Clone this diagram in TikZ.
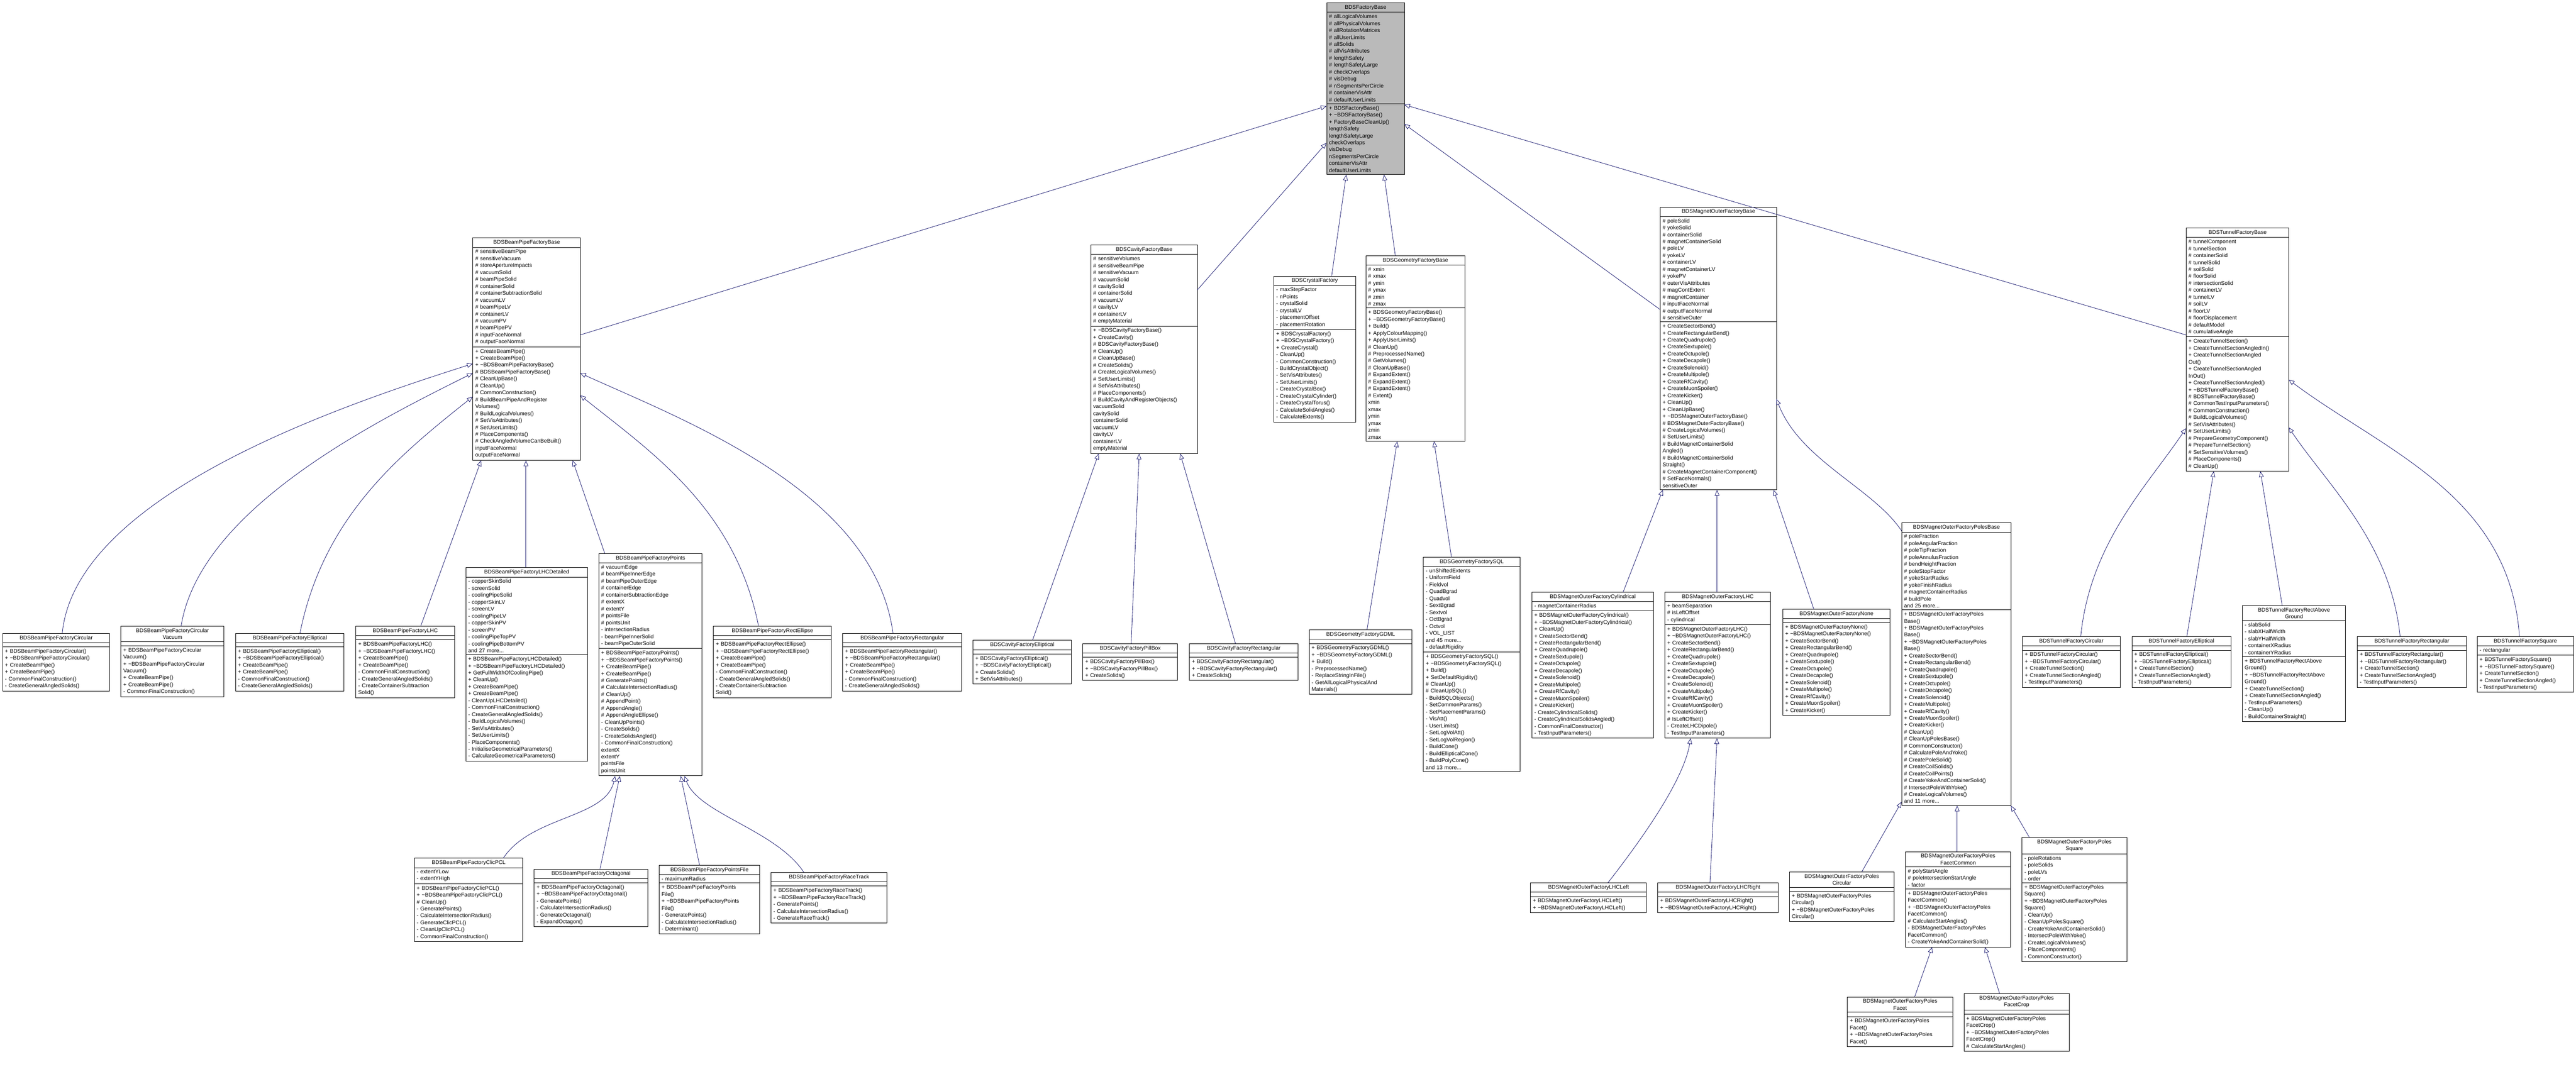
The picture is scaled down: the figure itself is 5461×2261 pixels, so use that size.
\documentclass[tikz,border=0pt]{standalone}
\usepackage{fontspec}
\setmainfont{Liberation Sans}
\usetikzlibrary{shapes.multipart,arrows.meta}

\newcommand{\td}{\textasciitilde}
% \umlclass{name}{x}{y}{width}{title}{attributes}{methods}
\newcommand{\umlclass}[8][]{%
  \pgfmathsetmacro{\boxtw}{#5-10}%
  \node[class_box, #1, text width=\boxtw pt] (#2) at (#3,#4)
    {\centering #6\par\nodepart{two}#7\nodepart{three}#8};}

\begin{document}
\begin{tikzpicture}[x=1pt, y=-1pt,
class_box/.style={rectangle split, rectangle split parts=3, draw=black, line width=1.1pt,
  anchor=north west, align=left, inner xsep=5pt, inner ysep=4pt,
  rectangle split empty part height=14pt,
  font=\fontsize{11.5}{14.7}\selectfont},
base_box/.style={fill=black!27},
inherit/.style={-{Triangle[open, length=12pt, width=10pt]}, draw={rgb,255:red,25;green,25;blue,112}, line width=0.9pt}
]
\useasboundingbox (0,0) rectangle (5461,2261);

% bases
\umlclass[base_box]{fbase}{2812}{6}{165}{BDSFactoryBase}
{\# allLogicalVolumes\\\# allPhysicalVolumes\\\# allRotationMatrices\\\# allUserLimits\\\# allSolids\\\# allVisAttributes\\\# lengthSafety\\\# lengthSafetyLarge\\\# checkOverlaps\\\# visDebug\\\# nSegmentsPerCircle\\\# containerVisAttr\\\# defaultUserLimits}
{+ BDSFactoryBase()\\+ \td BDSFactoryBase()\\+ FactoryBaseCleanUp()\\* lengthSafety\\* lengthSafetyLarge\\* checkOverlaps\\* visDebug\\* nSegmentsPerCircle\\* containerVisAttr\\* defaultUserLimits}

\umlclass{bpbase}{1002}{504}{228}{BDSBeamPipeFactoryBase}
{\# sensitiveBeamPipe\\\# sensitiveVacuum\\\# storeApertureImpacts\\\# vacuumSolid\\\# beamPipeSolid\\\# containerSolid\\\# containerSubtractionSolid\\\# vacuumLV\\\# beamPipeLV\\\# containerLV\\\# vacuumPV\\\# beamPipePV\\\# inputFaceNormal\\\# outputFaceNormal}
{+ CreateBeamPipe()\\+ CreateBeamPipe()\\+ \td BDSBeamPipeFactoryBase()\\\# BDSBeamPipeFactoryBase()\\\# CleanUpBase()\\\# CleanUp()\\\# CommonConstruction()\\\# BuildBeamPipeAndRegister\\Volumes()\\\# BuildLogicalVolumes()\\\# SetVisAttributes()\\\# SetUserLimits()\\\# PlaceComponents()\\\# CheckAngledVolumeCanBeBuilt()\\* inputFaceNormal\\* outputFaceNormal}

\umlclass{cavbase}{2312}{519}{226}{BDSCavityFactoryBase}
{\# sensitiveVolumes\\\# sensitiveBeamPipe\\\# sensitiveVacuum\\\# vacuumSolid\\\# cavitySolid\\\# containerSolid\\\# vacuumLV\\\# cavityLV\\\# containerLV\\\# emptyMaterial}
{+ \td BDSCavityFactoryBase()\\+ CreateCavity()\\\# BDSCavityFactoryBase()\\\# CleanUp()\\\# CleanUpBase()\\\# CreateSolids()\\\# CreateLogicalVolumes()\\\# SetUserLimits()\\\# SetVisAttributes()\\\# PlaceComponents()\\\# BuildCavityAndRegisterObjects()\\* vacuumSolid\\* cavitySolid\\* containerSolid\\* vacuumLV\\* cavityLV\\* containerLV\\* emptyMaterial}

\umlclass{crystal}{2700}{585}{173}{BDSCrystalFactory}
{- maxStepFactor\\- nPoints\\- crystalSolid\\- crystalLV\\- placementOffset\\- placementRotation}
{+ BDSCrystalFactory()\\+ \td BDSCrystalFactory()\\+ CreateCrystal()\\- CleanUp()\\- CommonConstruction()\\- BuildCrystalObject()\\- SetVisAttributes()\\- SetUserLimits()\\- CreateCrystalBox()\\- CreateCrystalCylinder()\\- CreateCrystalTorus()\\- CalculateSolidAngles()\\- CalculateExtents()}

\umlclass{geobase}{2895}{542}{210}{BDSGeometryFactoryBase}
{\# xmin\\\# xmax\\\# ymin\\\# ymax\\\# zmin\\\# zmax}
{+ BDSGeometryFactoryBase()\\+ \td BDSGeometryFactoryBase()\\+ Build()\\+ ApplyColourMapping()\\+ ApplyUserLimits()\\\# CleanUp()\\\# PreprocessedName()\\\# GetVolumes()\\\# CleanUpBase()\\\# ExpandExtent()\\\# ExpandExtent()\\\# ExpandExtent()\\\# Extent()\\* xmin\\* xmax\\* ymin\\* ymax\\* zmin\\* zmax}

\umlclass{mobase}{3519}{439}{247}{BDSMagnetOuterFactoryBase}
{\# poleSolid\\\# yokeSolid\\\# containerSolid\\\# magnetContainerSolid\\\# poleLV\\\# yokeLV\\\# containerLV\\\# magnetContainerLV\\\# yokePV\\\# outerVisAttributes\\\# magContExtent\\\# magnetContainer\\\# inputFaceNormal\\\# outputFaceNormal\\\# sensitiveOuter}
{+ CreateSectorBend()\\+ CreateRectangularBend()\\+ CreateQuadrupole()\\+ CreateSextupole()\\+ CreateOctupole()\\+ CreateDecapole()\\+ CreateSolenoid()\\+ CreateMultipole()\\+ CreateRfCavity()\\+ CreateMuonSpoiler()\\+ CreateKicker()\\+ CleanUp()\\+ CleanUpBase()\\+ \td BDSMagnetOuterFactoryBase()\\\# BDSMagnetOuterFactoryBase()\\\# CreateLogicalVolumes()\\\# SetUserLimits()\\\# BuildMagnetContainerSolid\\Angled()\\\# BuildMagnetContainerSolid\\Straight()\\\# CreateMagnetContainerComponent()\\\# SetFaceNormals()\\* sensitiveOuter}

\umlclass{tunbase}{4634}{483}{218}{BDSTunnelFactoryBase}
{\# tunnelComponent\\\# tunnelSection\\\# containerSolid\\\# tunnelSolid\\\# soilSolid\\\# floorSolid\\\# intersectionSolid\\\# containerLV\\\# tunnelLV\\\# soilLV\\\# floorLV\\\# floorDisplacement\\\# defaultModel\\\# cumulativeAngle}
{+ CreateTunnelSection()\\+ CreateTunnelSectionAngledIn()\\+ CreateTunnelSectionAngled\\Out()\\+ CreateTunnelSectionAngled\\InOut()\\+ CreateTunnelSectionAngled()\\+ \td BDSTunnelFactoryBase()\\\# BDSTunnelFactoryBase()\\\# CommonTestInputParameters()\\\# CommonConstruction()\\\# BuildLogicalVolumes()\\\# SetVisAttributes()\\\# SetUserLimits()\\\# PrepareGeometryComponent()\\\# PrepareTunnelSection()\\\# SetSensitiveVolumes()\\\# PlaceComponents()\\\# CleanUp()}

% beam pipes
\umlclass{bpcirc}{5}{1342}{227}{BDSBeamPipeFactoryCircular}{}
{+ BDSBeamPipeFactoryCircular()\\+ \td BDSBeamPipeFactoryCircular()\\+ CreateBeamPipe()\\+ CreateBeamPipe()\\- CommonFinalConstruction()\\- CreateGeneralAngledSolids()}
\umlclass{bpvac}{256}{1327}{218}{BDSBeamPipeFactoryCircular\\Vacuum}{}
{+ BDSBeamPipeFactoryCircular\\Vacuum()\\+ \td BDSBeamPipeFactoryCircular\\Vacuum()\\+ CreateBeamPipe()\\+ CreateBeamPipe()\\- CommonFinalConstruction()}
\umlclass{bpell}{499}{1342}{230}{BDSBeamPipeFactoryElliptical}{}
{+ BDSBeamPipeFactoryElliptical()\\+ \td BDSBeamPipeFactoryElliptical()\\+ CreateBeamPipe()\\+ CreateBeamPipe()\\- CommonFinalConstruction()\\- CreateGeneralAngledSolids()}
\umlclass{bplhc}{754}{1327}{209}{BDSBeamPipeFactoryLHC}{}
{+ BDSBeamPipeFactoryLHC()\\+ \td BDSBeamPipeFactoryLHC()\\+ CreateBeamPipe()\\+ CreateBeamPipe()\\- CommonFinalConstruction()\\- CreateGeneralAngledSolids()\\- CreateContainerSubtraction\\Solid()}
\umlclass{bplhcd}{987}{1203}{258}{BDSBeamPipeFactoryLHCDetailed}
{- copperSkinSolid\\- screenSolid\\- coolingPipeSolid\\- copperSkinLV\\- screenLV\\- coolingPipeLV\\- copperSkinPV\\- screenPV\\- coolingPipeTopPV\\- coolingPipeBottomPV\\and 27 more...}
{+ BDSBeamPipeFactoryLHCDetailed()\\+ \td BDSBeamPipeFactoryLHCDetailed()\\+ GetFullWidthOfCoolingPipe()\\+ CleanUp()\\+ CreateBeamPipe()\\+ CreateBeamPipe()\\- CleanUpLHCDetailed()\\- CommonFinalConstruction()\\- CreateGeneralAngledSolids()\\- BuildLogicalVolumes()\\- SetVisAttributes()\\- SetUserLimits()\\- PlaceComponents()\\- InitialiseGeometricalParameters()\\- CalculateGeometricalParameters()}
\umlclass{bppts}{1269}{1173}{219}{BDSBeamPipeFactoryPoints}
{\# vacuumEdge\\\# beamPipeInnerEdge\\\# beamPipeOuterEdge\\\# containerEdge\\\# containerSubtractionEdge\\\# extentX\\\# extentY\\\# pointsFile\\\# pointsUnit\\- intersectionRadius\\- beamPipeInnerSolid\\- beamPipeOuterSolid}
{+ BDSBeamPipeFactoryPoints()\\+ \td BDSBeamPipeFactoryPoints()\\+ CreateBeamPipe()\\+ CreateBeamPipe()\\\# GeneratePoints()\\\# CalculateIntersectionRadius()\\\# CleanUp()\\\# AppendPoint()\\\# AppendAngle()\\\# AppendAngleEllipse()\\- CleanUpPoints()\\- CreateSolids()\\- CreateSolidsAngled()\\- CommonFinalConstruction()\\* extentX\\* extentY\\* pointsFile\\* pointsUnit}
\umlclass{bpclic}{878}{1819}{230}{BDSBeamPipeFactoryClicPCL}
{- extentYLow\\- extentYHigh}
{+ BDSBeamPipeFactoryClicPCL()\\+ \td BDSBeamPipeFactoryClicPCL()\\\# CleanUp()\\- GeneratePoints()\\- CalculateIntersectionRadius()\\- GenerateClicPCL()\\- CleanUpClicPCL()\\- CommonFinalConstruction()}
\umlclass{bpoct}{1132}{1842}{241}{BDSBeamPipeFactoryOctagonal}{}
{+ BDSBeamPipeFactoryOctagonal()\\+ \td BDSBeamPipeFactoryOctagonal()\\- GeneratePoints()\\- CalculateIntersectionRadius()\\- GenerateOctagonal()\\- ExpandOctagon()}
\umlclass{bpfile}{1397}{1834}{213}{BDSBeamPipeFactoryPointsFile}
{- maximumRadius}
{+ BDSBeamPipeFactoryPoints\\File()\\+ \td BDSBeamPipeFactoryPoints\\File()\\- GeneratePoints()\\- CalculateIntersectionRadius()\\- Determinant()}
\umlclass{bprace}{1634}{1849}{246}{BDSBeamPipeFactoryRaceTrack}{}
{+ BDSBeamPipeFactoryRaceTrack()\\+ \td BDSBeamPipeFactoryRaceTrack()\\- GeneratePoints()\\- CalculateIntersectionRadius()\\- GenerateRaceTrack()}
\umlclass{bprecte}{1512}{1327}{250}{BDSBeamPipeFactoryRectEllipse}{}
{+ BDSBeamPipeFactoryRectEllipse()\\+ \td BDSBeamPipeFactoryRectEllipse()\\+ CreateBeamPipe()\\+ CreateBeamPipe()\\- CommonFinalConstruction()\\- CreateGeneralAngledSolids()\\- CreateContainerSubtraction\\Solid()}
\umlclass{bprect}{1786}{1342}{252}{BDSBeamPipeFactoryRectangular}{}
{+ BDSBeamPipeFactoryRectangular()\\+ \td BDSBeamPipeFactoryRectangular()\\+ CreateBeamPipe()\\+ CreateBeamPipe()\\- CommonFinalConstruction()\\- CreateGeneralAngledSolids()}

% cavities and geometry
\umlclass{cavell}{2062}{1357}{209}{BDSCavityFactoryElliptical}{}
{+ BDSCavityFactoryElliptical()\\+ \td BDSCavityFactoryElliptical()\\+ CreateSolids()\\+ SetVisAttributes()}
\umlclass{cavpill}{2295}{1364}{201}{BDSCavityFactoryPillBox}{}
{+ BDSCavityFactoryPillBox()\\+ \td BDSCavityFactoryPillBox()\\+ CreateSolids()}
\umlclass{cavrect}{2521}{1364}{230}{BDSCavityFactoryRectangular}{}
{+ BDSCavityFactoryRectangular()\\+ \td BDSCavityFactoryRectangular()\\+ CreateSolids()}
\umlclass{geogdml}{2775}{1335}{218}{BDSGeometryFactoryGDML}{}
{+ BDSGeometryFactoryGDML()\\+ \td BDSGeometryFactoryGDML()\\+ Build()\\- PreprocessedName()\\- ReplaceStringInFile()\\- GetAllLogicalPhysicalAnd\\Materials()}
\umlclass{geosql}{3017}{1181}{205}{BDSGeometryFactorySQL}
{- unShiftedExtents\\- UniformField\\- Fieldvol\\- QuadBgrad\\- Quadvol\\- SextBgrad\\- Sextvol\\- OctBgrad\\- Octvol\\- VOL\_LIST\\and 45 more...\\- defaultRigidity}
{+ BDSGeometryFactorySQL()\\+ \td BDSGeometryFactorySQL()\\+ Build()\\+ SetDefaultRigidity()\\\# CleanUp()\\\# CleanUpSQL()\\- BuildSQLObjects()\\- SetCommonParams()\\- SetPlacementParams()\\- VisAtt()\\- UserLimits()\\- SetLogVolAtt()\\- SetLogVolRegion()\\- BuildCone()\\- BuildEllipticalCone()\\- BuildPolyCone()\\and 13 more...}

% magnet outers
\umlclass{mocyl}{3247}{1255}{258}{BDSMagnetOuterFactoryCylindrical}
{- magnetContainerRadius}
{+ BDSMagnetOuterFactoryCylindrical()\\+ \td BDSMagnetOuterFactoryCylindrical()\\+ CleanUp()\\+ CreateSectorBend()\\+ CreateRectangularBend()\\+ CreateQuadrupole()\\+ CreateSextupole()\\+ CreateOctupole()\\+ CreateDecapole()\\+ CreateSolenoid()\\+ CreateMultipole()\\+ CreateRfCavity()\\+ CreateMuonSpoiler()\\+ CreateKicker()\\- CreateCylindricalSolids()\\- CreateCylindricalSolidsAngled()\\- CommonFinalConstructor()\\- TestInputParameters()}
\umlclass{molhc}{3529}{1255}{224}{BDSMagnetOuterFactoryLHC}
{+ beamSeparation\\\# isLeftOffset\\- cylindrical}
{+ BDSMagnetOuterFactoryLHC()\\+ \td BDSMagnetOuterFactoryLHC()\\+ CreateSectorBend()\\+ CreateRectangularBend()\\+ CreateQuadrupole()\\+ CreateSextupole()\\+ CreateOctupole()\\+ CreateDecapole()\\+ CreateSolenoid()\\+ CreateMultipole()\\+ CreateRfCavity()\\+ CreateMuonSpoiler()\\+ CreateKicker()\\\# IsLeftOffset()\\- CreateLHCDipole()\\- TestInputParameters()}
\umlclass{monone}{3779}{1291}{227}{BDSMagnetOuterFactoryNone}{}
{+ BDSMagnetOuterFactoryNone()\\+ \td BDSMagnetOuterFactoryNone()\\+ CreateSectorBend()\\+ CreateRectangularBend()\\+ CreateQuadrupole()\\+ CreateSextupole()\\+ CreateOctupole()\\+ CreateDecapole()\\+ CreateSolenoid()\\+ CreateMultipole()\\+ CreateRfCavity()\\+ CreateMuonSpoiler()\\+ CreateKicker()}
\umlclass{mopoles}{4031}{1108}{232}{BDSMagnetOuterFactoryPolesBase}
{\# poleFraction\\\# poleAngularFraction\\\# poleTipFraction\\\# poleAnnulusFraction\\\# bendHeightFraction\\\# poleStopFactor\\\# yokeStartRadius\\\# yokeFinishRadius\\\# magnetContainerRadius\\\# buildPole\\and 25 more...}
{+ BDSMagnetOuterFactoryPoles\\Base()\\+ BDSMagnetOuterFactoryPoles\\Base()\\+ \td BDSMagnetOuterFactoryPoles\\Base()\\+ CreateSectorBend()\\+ CreateRectangularBend()\\+ CreateQuadrupole()\\+ CreateSextupole()\\+ CreateOctupole()\\+ CreateDecapole()\\+ CreateSolenoid()\\+ CreateMultipole()\\+ CreateRfCavity()\\+ CreateMuonSpoiler()\\+ CreateKicker()\\\# CleanUp()\\\# CleanUpPolesBase()\\\# CommonConstructor()\\\# CalculatePoleAndYoke()\\\# CreatePoleSolid()\\\# CreateCoilSolids()\\\# CreateCoilPoints()\\\# CreateYokeAndContainerSolid()\\\# IntersectPoleWithYoke()\\\# CreateLogicalVolumes()\\and 11 more...}
\umlclass{molhcl}{3244}{1871}{246}{BDSMagnetOuterFactoryLHCLeft}{}
{+ BDSMagnetOuterFactoryLHCLeft()\\+ \td BDSMagnetOuterFactoryLHCLeft()}
\umlclass{molhcr}{3514}{1871}{255}{BDSMagnetOuterFactoryLHCRight}{}
{+ BDSMagnetOuterFactoryLHCRight()\\+ \td BDSMagnetOuterFactoryLHCRight()}
\umlclass{mopcirc}{3793}{1848}{222}{BDSMagnetOuterFactoryPoles\\Circular}{}
{+ BDSMagnetOuterFactoryPoles\\Circular()\\+ \td BDSMagnetOuterFactoryPoles\\Circular()}
\umlclass{mopfc}{4039}{1805}{223}{BDSMagnetOuterFactoryPoles\\FacetCommon}
{\# polyStartAngle\\\# poleIntersectionStartAngle\\- factor}
{+ BDSMagnetOuterFactoryPoles\\FacetCommon()\\+ \td BDSMagnetOuterFactoryPoles\\FacetCommon()\\\# CalculateStartAngles()\\- BDSMagnetOuterFactoryPoles\\FacetCommon()\\- CreateYokeAndContainerSolid()}
\umlclass{mopfacet}{3916}{2113}{223}{BDSMagnetOuterFactoryPoles\\Facet}{}
{+ BDSMagnetOuterFactoryPoles\\Facet()\\+ \td BDSMagnetOuterFactoryPoles\\Facet()}
\umlclass{mopcrop}{4163}{2106}{223}{BDSMagnetOuterFactoryPoles\\FacetCrop}{}
{+ BDSMagnetOuterFactoryPoles\\FacetCrop()\\+ \td BDSMagnetOuterFactoryPoles\\FacetCrop()\\\# CalculateStartAngles()}
\umlclass{mopsq}{4286}{1775}{222}{BDSMagnetOuterFactoryPoles\\Square}
{- poleRotations\\- poleSolids\\- poleLVs\\- order}
{+ BDSMagnetOuterFactoryPoles\\Square()\\+ \td BDSMagnetOuterFactoryPoles\\Square()\\- CleanUp()\\- CleanUpPolesSquare()\\- CreateYokeAndContainerSolid()\\- IntersectPoleWithYoke()\\- CreateLogicalVolumes()\\- PlaceComponents()\\- CommonConstructor()}

% tunnels
\umlclass{tuncirc}{4287}{1349}{207}{BDSTunnelFactoryCircular}{}
{+ BDSTunnelFactoryCircular()\\+ \td BDSTunnelFactoryCircular()\\+ CreateTunnelSection()\\+ CreateTunnelSectionAngled()\\- TestInputParameters()}
\umlclass{tunell}{4519}{1349}{210}{BDSTunnelFactoryElliptical}{}
{+ BDSTunnelFactoryElliptical()\\+ \td BDSTunnelFactoryElliptical()\\+ CreateTunnelSection()\\+ CreateTunnelSectionAngled()\\- TestInputParameters()}
\umlclass{tunrag}{4753}{1283}{219}{BDSTunnelFactoryRectAbove\\Ground}
{- slabSolid\\- slabXHalfWidth\\- slabYHalfWidth\\- containerXRadius\\- containerYRadius}
{+ BDSTunnelFactoryRectAbove\\Ground()\\+ \td BDSTunnelFactoryRectAbove\\Ground()\\+ CreateTunnelSection()\\+ CreateTunnelSectionAngled()\\- TestInputParameters()\\- CleanUp()\\- BuildContainerStraight()}
\umlclass{tunrect}{4997}{1349}{231}{BDSTunnelFactoryRectangular}{}
{+ BDSTunnelFactoryRectangular()\\+ \td BDSTunnelFactoryRectangular()\\+ CreateTunnelSection()\\+ CreateTunnelSectionAngled()\\- TestInputParameters()}
\umlclass{tunsq}{5251}{1349}{204}{BDSTunnelFactorySquare}
{- rectangular}
{+ BDSTunnelFactorySquare()\\+ \td BDSTunnelFactorySquare()\\+ CreateTunnelSection()\\+ CreateTunnelSectionAngled()\\- TestInputParameters()}

% inheritance to BDSFactoryBase
\draw[inherit] ([shift={(228,206)}]bpbase.north west) -- ([shift={(0,219)}]fbase.north west);
\draw[inherit] ([shift={(226,96)}]cavbase.north west) -- ([shift={(0,297)}]fbase.north west);
\draw[inherit] ([xshift=123pt]crystal.north west) -- ([xshift=42pt]fbase.south west);
\draw[inherit] ([xshift=63pt]geobase.north west) -- ([xshift=122pt]fbase.south west);
\draw[inherit] ([shift={(0,217)}]mobase.north west) -- ([shift={(165,257)}]fbase.north west);
\draw[inherit] ([shift={(0,227)}]tunbase.north west) -- ([shift={(165,216)}]fbase.north west);

% beam pipe family
\draw[inherit] ([xshift=127pt]bpcirc.north west) .. controls +(30,-300) and +(-250,80) .. ([shift={(0,267)}]bpbase.north west);
\draw[inherit] ([xshift=128pt]bpvac.north west) .. controls +(40,-250) and +(-200,100) .. ([shift={(0,287)}]bpbase.north west);
\draw[inherit] ([xshift=137pt]bpell.north west) .. controls +(50,-250) and +(-150,120) .. ([shift={(0,337)}]bpbase.north west);
\draw[inherit] ([xshift=138pt]bplhc.north west) -- ([xshift=18pt]bpbase.south west);
\draw[inherit] ([xshift=128pt]bplhcd.north west) -- ([xshift=113pt]bpbase.south west);
\draw[inherit] ([xshift=13pt]bppts.north west) -- ([xshift=212pt]bpbase.south west);
\draw[inherit] ([xshift=96pt]bprecte.north west) .. controls +(-50,-250) and +(150,120) .. ([shift={(228,334)}]bpbase.north west);
\draw[inherit] ([xshift=107pt]bprect.north west) .. controls +(-40,-300) and +(220,100) .. ([shift={(228,287)}]bpbase.north west);
\draw[inherit] ([xshift=189pt]bpclic.north west) .. controls +(60,-90) and +(-20,90) .. ([xshift=35pt]bppts.south west);
\draw[inherit] ([xshift=140pt]bpoct.north west) -- ([xshift=45pt]bppts.south west);
\draw[inherit] ([xshift=86pt]bpfile.north west) -- ([xshift=174pt]bppts.south west);
\draw[inherit] ([xshift=70pt]bprace.north west) .. controls +(-60,-90) and +(30,80) .. ([xshift=182pt]bppts.south west);

% cavity and geometry family
\draw[inherit] ([xshift=127pt]cavell.north west) -- ([xshift=17pt]cavbase.south west);
\draw[inherit] ([xshift=103pt]cavpill.north west) -- ([xshift=103pt]cavbase.south west);
\draw[inherit] ([xshift=98pt]cavrect.north west) -- ([xshift=190pt]cavbase.south west);
\draw[inherit] ([xshift=123pt]geogdml.north west) -- ([xshift=67pt]geobase.south west);
\draw[inherit] ([xshift=60pt]geosql.north west) -- ([xshift=145pt]geobase.south west);

% magnet outer family
\draw[inherit] ([xshift=194pt]mocyl.north west) -- ([xshift=6pt]mobase.south west);
\draw[inherit] ([xshift=111pt]molhc.north west) -- ([xshift=121pt]mobase.south west);
\draw[inherit] ([xshift=66pt]monone.north west) -- ([xshift=241pt]mobase.south west);
\draw[inherit] ([shift={(0,17)}]mopoles.north west) .. controls +(-60,-90) and +(50,130) .. ([shift={(247,407)}]mobase.north west);
\draw[inherit] ([xshift=165pt]molhcl.north west) .. controls +(70,-90) and +(-15,90) .. ([xshift=55pt]molhc.south west);
\draw[inherit] ([xshift=111pt]molhcr.north west) -- ([xshift=111pt]molhc.south west);
\draw[inherit] ([xshift=154pt]mopcirc.north west) -- ([shift={(0,592)}]mopoles.north west);
\draw[inherit] ([xshift=110pt]mopfc.north west) -- ([xshift=118pt]mopoles.south west);
\draw[inherit] ([xshift=16pt]mopsq.north west) -- ([shift={(232,600)}]mopoles.north west);
\draw[inherit] ([xshift=143pt]mopfacet.north west) -- ([xshift=57pt]mopfc.south west);
\draw[inherit] ([xshift=76pt]mopcrop.north west) -- ([xshift=169pt]mopfc.south west);

% tunnel family
\draw[inherit] ([xshift=124pt]tuncirc.north west) .. controls +(20,-200) and +(-80,120) .. ([shift={(0,425)}]tunbase.north west);
\draw[inherit] ([xshift=117pt]tunell.north west) -- ([xshift=59pt]tunbase.south west);
\draw[inherit] ([xshift=85pt]tunrag.north west) -- ([xshift=158pt]tunbase.south west);
\draw[inherit] ([xshift=91pt]tunrect.north west) .. controls +(-20,-200) and +(80,120) .. ([shift={(218,423)}]tunbase.north west);
\draw[inherit] ([xshift=90pt]tunsq.north west) .. controls +(-20,-300) and +(200,150) .. ([shift={(218,322)}]tunbase.north west);
\end{tikzpicture}
\end{document}
